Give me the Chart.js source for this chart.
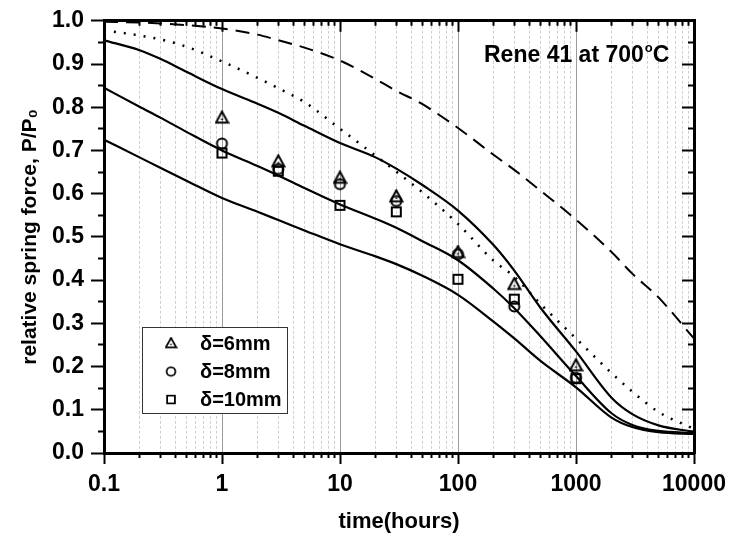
<!DOCTYPE html>
<html>
<head>
<meta charset="utf-8">
<script src="https://cdn.jsdelivr.net/npm/chart.js@4.4.1/dist/chart.umd.min.js"></script>
<style>
  html, body { margin: 0; padding: 0; background: #fff; }
  #wrap { position: relative; width: 729px; height: 540px; }
</style>
</head>
<body>
<div id="wrap"><canvas id="relaxChart"></canvas></div>
<script>
// times (hours) where the model curves were read
const curveTimes = [0.1, 0.2, 0.3, 0.5, 1, 2, 3, 5, 10, 20, 30, 50, 100, 200, 300, 500, 1000, 2000, 3000, 5000, 10000];

// model curves, P/P0
const curveUpper  = [0.955, 0.932, 0.912, 0.882, 0.842, 0.808, 0.787, 0.757, 0.717, 0.684, 0.658, 0.620, 0.561, 0.481, 0.422, 0.336, 0.235, 0.128, 0.090, 0.064, 0.049];
const curveMiddle = [0.845, 0.801, 0.776, 0.743, 0.700, 0.664, 0.642, 0.613, 0.575, 0.542, 0.521, 0.490, 0.446, 0.380, 0.335, 0.270, 0.178, 0.092, 0.065, 0.051, 0.046];
const curveLower  = [0.725, 0.684, 0.660, 0.630, 0.590, 0.558, 0.539, 0.515, 0.483, 0.455, 0.437, 0.410, 0.366, 0.304, 0.265, 0.213, 0.152, 0.082, 0.060, 0.048, 0.044];
const curveDotted = [0.978, 0.966, 0.957, 0.940, 0.906, 0.868, 0.844, 0.812, 0.750, 0.688, 0.651, 0.603, 0.530, 0.445, 0.408, 0.345, 0.265, 0.185, 0.142, 0.095, 0.056];
const curveDashed = [0.998, 0.996, 0.994, 0.990, 0.982, 0.968, 0.955, 0.938, 0.908, 0.865, 0.838, 0.807, 0.752, 0.690, 0.655, 0.607, 0.540, 0.465, 0.415, 0.360, 0.265];

// measured points
const testTimes = [1, 3, 10, 30, 100, 300, 1000];
const force6mm  = [0.776, 0.675, 0.637, 0.594, 0.465, 0.391, 0.203];
const force8mm  = [0.716, 0.657, 0.622, 0.583, 0.460, 0.339, 0.174];
const force10mm = [0.694, 0.652, 0.573, 0.558, 0.402, 0.356, 0.172];
const seriesNames = ["δ=6mm", "δ=8mm", "δ=10mm"];

// ticks
const timeDecades = [0.1, 1, 10, 100, 1000, 10000];
const timeMinor = [];
timeDecades.slice(0, -1).forEach(d => { for (let k = 2; k <= 9; k++) timeMinor.push(+(d * k).toPrecision(3)); });
const forceMajor = [0, 0.1, 0.2, 0.3, 0.4, 0.5, 0.6, 0.7, 0.8, 0.9, 1.0];
const forceMinor = [0.05, 0.15, 0.25, 0.35, 0.45, 0.55, 0.65, 0.75, 0.85, 0.95];

const FONT = "'Liberation Sans', Arial, Helvetica, sans-serif";

function pts(xs, ys) {
  return xs.map((x, i) => ({ x: x, y: ys[i] }));
}

// open marker symbols like the original plot
function makeMarker(shape) {
  const c = document.createElement('canvas');
  c.width = 15; c.height = 15;
  const g = c.getContext('2d');
  g.strokeStyle = '#000';
  g.fillStyle = '#000';
  g.lineWidth = 2;
  g.beginPath();
  if (shape === 'triangle') {
    g.moveTo(7.5, 1.5);
    g.lineTo(13.5, 12.5);
    g.lineTo(1.5, 12.5);
    g.closePath();
    g.stroke();
    g.fillRect(6.5, 8.5, 2, 1.5);
  } else if (shape === 'circle') {
    g.arc(7.5, 7.5, 5, 0, Math.PI * 2);
    g.stroke();
  } else {
    g.rect(3, 3, 9, 9);
    g.stroke();
  }
  return c;
}
const markTri = makeMarker('triangle');
const markCirc = makeMarker('circle');
const markSq = makeMarker('square');

function pointSet(label, ys, img) {
  return {
    label: label,
    data: pts(testTimes, ys),
    showLine: false,
    pointStyle: img,
    pointRadius: 6,
    borderColor: '#000',
    backgroundColor: 'transparent'
  };
}

function curveSet(label, ys, dash, width) {
  return {
    label: label,
    data: pts(curveTimes, ys),
    borderColor: '#000',
    borderWidth: width,
    borderDash: dash,
    pointRadius: 0,
    fill: false,
    cubicInterpolationMode: 'monotone'
  };
}

// tick helpers
const setTicks = list => axis => { axis.ticks = list.map(v => ({ value: v })); };
const zeroHeight = axis => { axis.height = 0; };
const zeroWidth = axis => { axis.width = 0; };

function sideAxis(type, pos, list, len, border, extra) {
  const isX = pos === 'top' || pos === 'bottom';
  return Object.assign({
    type: type,
    position: pos,
    min: isX ? 0.1 : 0,
    max: isX ? 10000 : 1,
    afterBuildTicks: setTicks(list),
    afterFit: isX ? zeroHeight : zeroWidth,
    ticks: { display: false, autoSkip: false },
    grid: { drawOnChartArea: false, tickLength: len, tickWidth: 2, tickColor: '#000' },
    border: { display: border, color: '#000', width: 3 }
  }, extra || {});
}

// legend box + annotation drawn inside the plot area
const insideText = {
  id: 'insideText',
  afterDatasetsDraw(chart) {
    const ctx = chart.ctx;
    ctx.save();
    // legend
    ctx.fillStyle = '#fff';
    ctx.fillRect(142.5, 327.5, 145, 86);
    ctx.strokeStyle = '#333';
    ctx.lineWidth = 1;
    ctx.strokeRect(142.5, 327.5, 145, 86);
    const rows = [343, 371.5, 399.5];
    const imgs = [markTri, markCirc, markSq];
    ctx.font = 'bold 20px ' + FONT;
    ctx.fillStyle = '#000';
    ctx.textBaseline = 'middle';
    ctx.textAlign = 'left';
    rows.forEach((y, i) => {
      ctx.drawImage(imgs[i], 171 - 6.5, y - 6.5, 13, 13);
      ctx.fillText(seriesNames[i], 200, y + 1);
    });
    // material note
    ctx.textBaseline = 'alphabetic';
    ctx.font = 'bold 23px ' + FONT;
    const main = 'Rene 41 at 700';
    ctx.fillText(main, 484, 62);
    let x = 484 + ctx.measureText(main).width + 1;
    ctx.font = 'bold 13px ' + FONT;
    ctx.fillText('o', x, 52);
    x += ctx.measureText('o').width;
    ctx.font = 'bold 23px ' + FONT;
    ctx.fillText('C', x, 62);
    ctx.restore();
  }
};

const ctx = document.getElementById('relaxChart').getContext('2d');

new Chart(ctx, {
  type: 'line',
  data: {
    datasets: [
      pointSet(seriesNames[0], force6mm, markTri),
      pointSet(seriesNames[1], force8mm, markCirc),
      pointSet(seriesNames[2], force10mm, markSq),
      curveSet('upper', curveUpper, [], 2.2),
      curveSet('middle', curveMiddle, [], 2.2),
      curveSet('lower', curveLower, [], 2.2),
      curveSet('dotted', curveDotted, [2, 8], 2.5),
      curveSet('dashed', curveDashed, [14, 8], 2)
    ]
  },
  options: {
    responsive: true,
    maintainAspectRatio: false,
    animation: false,
    layout: { padding: { left: 0, right: 35, top: 19, bottom: 0 } },
    plugins: {
      legend: { display: false },
      tooltip: { enabled: false }
    },
    scales: {
      x: {
        type: 'logarithmic',
        position: 'bottom',
        min: 0.1,
        max: 10000,
        afterBuildTicks: setTicks(timeDecades),
        afterFit: axis => {
          axis.height = 87;
          // keep the plot edge fixed; the last label may run into the margin
          axis.paddingRight = 0;
          axis.paddingLeft = 0;
        },
        ticks: {
          autoSkip: false,
          maxRotation: 0,
          minRotation: 0,
          padding: 7,
          color: '#000',
          font: { family: FONT, size: 23, weight: 'bold' },
          callback: v => String(v)
        },
        grid: { color: '#9c9c9c', lineWidth: 1, tickLength: 11, tickWidth: 2, tickColor: '#000' },
        border: { display: true, color: '#000', width: 3 },
        title: {
          display: true,
          text: 'time(hours)',
          color: '#000',
          font: { family: FONT, size: 22, weight: 'bold' },
          padding: { top: 0, bottom: 5 }
        }
      },
      xMinor: sideAxis('logarithmic', 'bottom', timeMinor, 5, false, {
        weight: -1,
        grid: { drawOnChartArea: true, color: '#cfcfcf', lineWidth: 1, tickLength: 5, tickWidth: 2, tickColor: '#000' },
        border: { display: false, dash: [3, 2] }
      }),
      xTop: sideAxis('logarithmic', 'top', timeDecades, -11, true),
      xTopMinor: sideAxis('logarithmic', 'top', timeMinor, -5, false),
      y: {
        type: 'linear',
        position: 'left',
        min: 0,
        max: 1,
        afterBuildTicks: setTicks(forceMajor),
        afterFit: axis => { axis.width = 104; },
        ticks: {
          autoSkip: false,
          padding: 7,
          color: '#000',
          font: { family: FONT, size: 23, weight: 'bold' },
          callback: v => v.toFixed(1)
        },
        grid: { drawOnChartArea: false, tickLength: 13, tickWidth: 2, tickColor: '#000' },
        border: { display: true, color: '#000', width: 3 },
        title: {
          display: true,
          text: 'relative spring force, P/P₀',
          color: '#000',
          font: { family: FONT, size: 21, weight: 'bold' },
          padding: { top: 18, bottom: 0 }
        }
      },
      yMinor: sideAxis('linear', 'left', forceMinor, 6, false, { weight: -1 }),
      yRight: sideAxis('linear', 'right', forceMajor, -12, true),
      yRightMinor: sideAxis('linear', 'right', forceMinor, -6, false)
    }
  },
  plugins: [insideText]
});
</script>
</body>
</html>
